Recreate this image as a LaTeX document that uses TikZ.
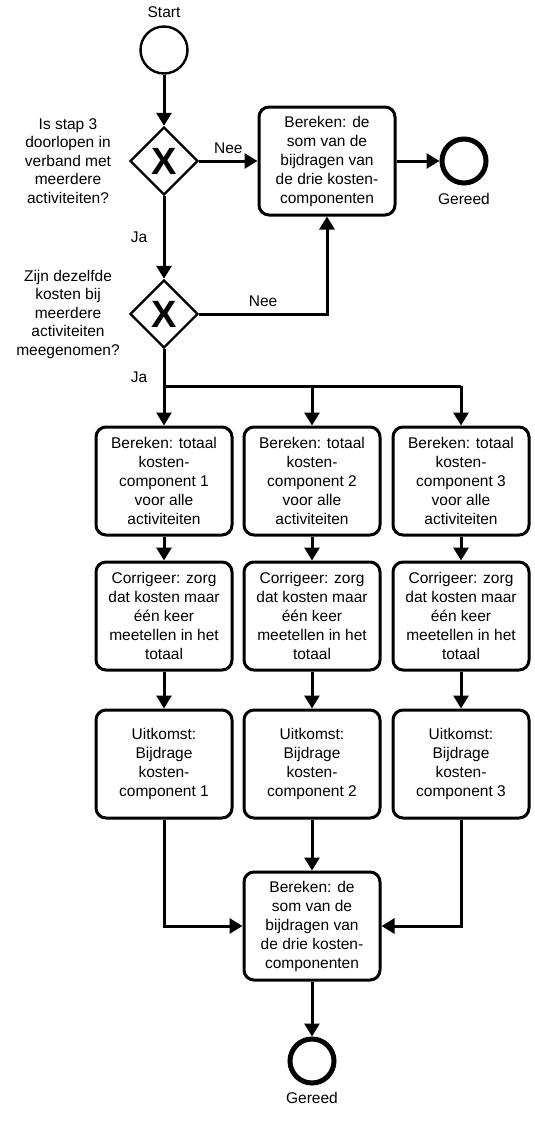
\documentclass[tikz,border=0pt]{standalone}
\usepackage{fontspec}
\setmainfont{Liberation Sans}
\usetikzlibrary{arrows.meta,shapes.geometric,positioning}

\begin{document}
\begin{tikzpicture}[
    x=1pt, y=-1pt,
    font=\fontsize{15.5}{19}\selectfont,
    taak/.style={rectangle, draw, rounded corners=10pt, line width=3pt, minimum width=136pt, minimum height=108pt, align=center, inner sep=2pt},
    poort/.style={diamond, draw, line width=2.4pt, minimum width=68pt, minimum height=68pt, inner sep=0pt, font=\fontsize{38}{38}\selectfont\bfseries},
    startpunt/.style={circle, draw, line width=2.4pt, minimum size=47pt, inner sep=0pt},
    eindpunt/.style={circle, draw, line width=5pt, minimum size=44pt, inner sep=0pt},
    vraag/.style={align=center, font=\fontsize{15.5}{18.5}\selectfont},
    lijn/.style={line width=3pt},
    arrow/.style={-{Triangle[length=13pt,width=15pt]}, line width=3pt}
]
    \useasboundingbox (0,0) rectangle (535,1124);

    % bovenste deel
    \node[startpunt] (start) at (164,50) {};
    \node[above=4pt of start] (startlabel) {Start};
    \node[poort] (p1) at (164,161) {X};
    \node[vraag] (v1) at (68,161) {Is stap 3\\doorlopen in\\verband met\\meerdere\\activiteiten?};
    \node[taak] (som1) at (327,161) {Bereken: de\\som van de\\bijdragen van\\de drie kosten-\\componenten};
    \node[eindpunt] (eind1) at (464,161) {};
    \node[below=4pt of eind1] (gereed1) {Gereed};
    \node[poort] (p2) at (164,314) {X};
    \node[vraag] (v2) at (68,314) {Zijn dezelfde\\kosten bij\\meerdere\\activiteiten\\meegenomen?};

    \draw[arrow] (start) -- (p1);
    \draw[arrow] (p1) -- node[above=3pt] (nee1) {Nee} (som1);
    \draw[arrow] (som1) -- (eind1);
    \draw[arrow] (p1) -- node[left=12pt] (ja1) {Ja} (p2);
    \draw[arrow] (p2) -| node[pos=0.25, above=3pt] (nee2) {Nee} (som1);

    % drie kostencomponenten
    \coordinate (split) at (164,386);
    \foreach \i/\x in {1/164,2/312,3/461} {
        \node[taak] (tot\i) at (\x,481) {Bereken: totaal\\kosten-\\component \i\\voor alle\\activiteiten};
        \node[taak] (cor\i) at (\x,616) {Corrigeer: zorg\\dat kosten maar\\één keer\\meetellen in het\\totaal};
        \node[taak] (uit\i) at (\x,764) {Uitkomst:\\Bijdrage\\kosten-\\component \i};
        \draw[arrow] (split -| tot\i) -- (tot\i);
        \draw[arrow] (tot\i) -- (cor\i);
        \draw[arrow] (cor\i) -- (uit\i);
    }
    \draw[lijn] (p2) -- node[pos=0.75, left=12pt] (ja2) {Ja} (split);
    \draw[lijn] (split) -- (split -| tot3);

    % samenvoegen
    \node[taak] (som2) at (312,926) {Bereken: de\\som van de\\bijdragen van\\de drie kosten-\\componenten};
    \node[eindpunt] (eind2) at (312,1061) {};
    \node[below=3pt of eind2] (gereed2) {Gereed};
    \draw[arrow] (uit1) |- (som2);
    \draw[arrow] (uit2) -- (som2);
    \draw[arrow] (uit3) |- (som2);
    \draw[arrow] (som2) -- (eind2);
\end{tikzpicture}
\end{document}
